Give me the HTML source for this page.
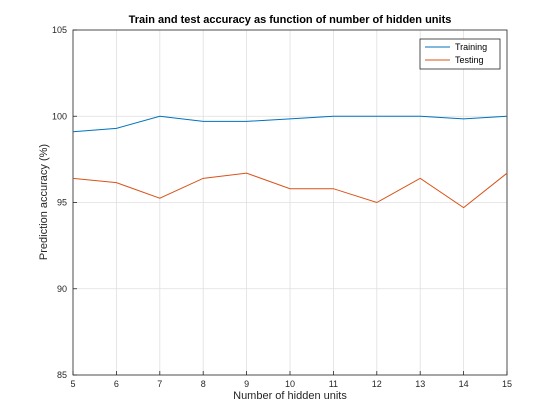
<!DOCTYPE html>
<html><head><meta charset="utf-8"><style>
body{margin:0;background:#fff;}
svg{display:block;font-family:"Liberation Sans",sans-serif;}
</style></head><body>
<svg id="chart" width="560" height="420" viewBox="0 0 560 420">
<rect width="560" height="420" fill="#fff"/>
<g id="grid"></g>
<rect x="73" y="30" width="434" height="345" fill="none" stroke="#262626" stroke-width="0.8"/>
<g id="ticks"></g>
<g id="series"></g>
<text x="290" y="23" font-size="11" font-weight="bold" text-anchor="middle" fill="#000">Train and test accuracy as function of number of hidden units</text>
<text x="290" y="399" font-size="11" text-anchor="middle" fill="#262626">Number of hidden units</text>
<text transform="translate(47,202) rotate(-90)" font-size="11" text-anchor="middle" fill="#262626">Prediction accuracy (%)</text>
<g>
<rect x="420" y="39" width="80" height="30" fill="#fff" stroke="#262626" stroke-width="0.8"/>
<line x1="425" y1="47" x2="450" y2="47" stroke="#0072BD" stroke-width="1"/>
<text x="455" y="50" font-size="9" fill="#000">Training</text>
<line x1="425" y1="60" x2="450" y2="60" stroke="#D95319" stroke-width="1"/>
<text x="455" y="63" font-size="9" fill="#000">Testing</text>
</g>
</svg>
<script>
const hiddenUnits=[5,6,7,8,9,10,11,12,13,14,15];
const trainingAcc=[99.1,99.3,100,99.7,99.7,99.85,100,100,100,99.85,100];
const testingAcc=[96.4,96.15,95.25,96.4,96.7,95.8,95.8,95.0,96.4,94.7,96.7];
const xTicks=[5,6,7,8,9,10,11,12,13,14,15];
const yTicks=[85,90,95,100,105];
const NS="http://www.w3.org/2000/svg";
const X0=73,X1=507,Y0=375,Y1=30;
function xs(v){return X0+(v-5)/(15-5)*(X1-X0);}
function ys(v){return Y0-(v-85)/(105-85)*(Y0-Y1);}
const grid=document.getElementById('grid'),ticks=document.getElementById('ticks'),ser=document.getElementById('series');
function mk(t,a,p){const e=document.createElementNS(NS,t);for(const k in a)e.setAttribute(k,a[k]);p.appendChild(e);return e;}
xTicks.forEach(v=>{const x=xs(v);
 const g=mk('line',{x1:x,x2:x,y1:Y1,y2:Y0,stroke:'#dfdfdf','stroke-width':0.8},grid);
 
 
 const t=mk('line',{x1:x,x2:x,y1:Y0,y2:Y0-4,stroke:'#262626','stroke-width':0.8},ticks);
 
 
 const l=mk('text',{x:x,y:Y0+12,'font-size':9,'text-anchor':'middle',fill:'#262626'},ticks);l.textContent=v;
 
 
});
yTicks.forEach(v=>{const y=ys(v);
 const g=mk('line',{x1:X0,x2:X1,y1:y,y2:y,stroke:'#dfdfdf','stroke-width':0.8},grid);
 
 
 const t=mk('line',{x1:X0,x2:X0+4,y1:y,y2:y,stroke:'#262626','stroke-width':0.8},ticks);
 
 
 const l=mk('text',{x:X0-6,y:y+3,'font-size':9,'text-anchor':'end',fill:'#262626'},ticks);l.textContent=v;
 
 
});
function line(vals,color,name){
 const p=mk('polyline',{points:vals.map((v,i)=>xs(hiddenUnits[i])+','+ys(v)).join(' '),fill:'none',stroke:color,'stroke-width':1},ser);
 
 
}
line(trainingAcc,'#0072BD','training-line');
line(testingAcc,'#D95319','testing-line');
</script>
</body></html>
